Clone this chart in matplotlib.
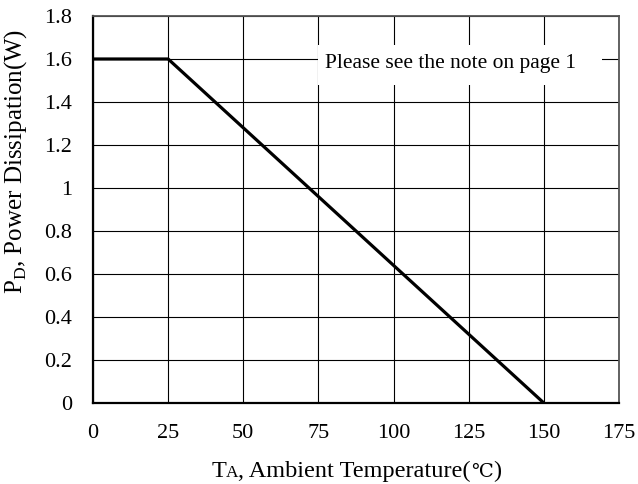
import matplotlib
matplotlib.use("Agg")
import matplotlib.pyplot as plt
from matplotlib.patches import Rectangle
from matplotlib.offsetbox import TextArea, HPacker, AnchoredOffsetbox

# derating curve: ambient temperature (C) vs power dissipation (W)
temp = [0, 25, 150]
power = [1.6, 1.6, 0.0]
x_ticks = [0, 25, 50, 75, 100, 125, 150, 175]
y_ticks = [0, 0.2, 0.4, 0.6, 0.8, 1.0, 1.2, 1.4, 1.6, 1.8]
y_labels = ["0", "0.2", "0.4", "0.6", "0.8", "1", "1.2", "1.4", "1.6", "1.8"]

FAM = ['Liberation Serif', 'DejaVu Serif']
plt.rcParams['font.family'] = FAM
plt.rcParams['mathtext.fontset'] = 'custom'
plt.rcParams['mathtext.rm'] = 'Liberation Serif'

fig = plt.figure(figsize=(6.38, 4.84), dpi=100)
ax = fig.add_axes([93/638, 1 - 403/484, 526/638, 387/484])

ax.plot(temp, power, color='black', linewidth=2.3, solid_capstyle='butt', zorder=3)

ax.set_xlim(0, 175)
ax.set_ylim(0, 1.8)
ax.set_xticks(x_ticks)
ax.set_yticks(y_ticks)
ax.set_yticklabels(y_labels)
ax.grid(True, color='black', linewidth=0.8)
ax.tick_params(length=0, labelsize=16)
ax.tick_params(axis='y', pad=15)
ax.tick_params(axis='x', pad=15)

for side in ['left', 'bottom']:
    ax.spines[side].set_linewidth(1.6)
for side in ['top', 'right']:
    ax.spines[side].set_linewidth(1.3)
    ax.spines[side].set_color('#555555')

# y label (mathtext subscript), not centred on the axis in the original
ax.set_ylabel("P$_{\\mathregular{D}}$, Power Dissipation(W)", fontsize=18)
ax.yaxis.set_label_coords(-0.121, 0.623)

# x label built from pieces so the small "A" sits on the baseline and the degree sign has a font
parts = [TextArea("T", textprops=dict(fontsize=17.5, family=FAM)),
         TextArea("A", textprops=dict(fontsize=12.5, family=FAM)),
         TextArea(", Ambient Temperature(", textprops=dict(fontsize=17.5, family=FAM)),
         TextArea("\u2103", textprops=dict(fontsize=14, family=FAM)),
         TextArea(")", textprops=dict(fontsize=17.5, family=FAM))]
xlab = HPacker(children=parts, align='baseline', pad=0, sep=0)
ax.add_artist(AnchoredOffsetbox(loc='upper center', child=xlab, pad=0, borderpad=0, frameon=False,
                                bbox_to_anchor=(0.5, -0.15), bbox_transform=ax.transAxes))

# white note box over the grid
ax.add_patch(Rectangle((75, 1.48), 94.3, 0.185, facecolor='white', edgecolor='none', zorder=2.5))
ax.text(77.2, 1.577, "Please see the note on page 1", fontsize=15.5, ha='left', va='center', zorder=4)

plt.savefig("out.png", dpi=100)
plt.close()
